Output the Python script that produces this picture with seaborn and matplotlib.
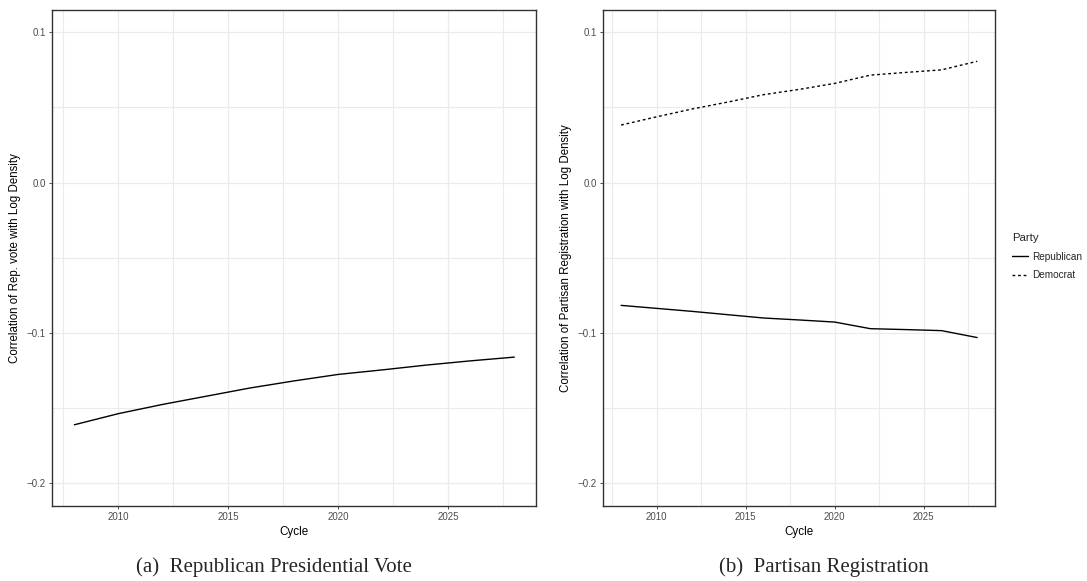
import numpy as np
import pandas as pd
import matplotlib
matplotlib.use("Agg")
import matplotlib.pyplot as plt
import seaborn as sns
from matplotlib.lines import Line2D

# ---- data ----
cycles = [2008, 2010, 2012, 2014, 2016, 2018, 2020, 2022, 2024, 2026, 2028]
rep_vote_corr = [-0.1610, -0.1536, -0.1475, -0.1420, -0.1365, -0.1318,
                 -0.1275, -0.1245, -0.1213, -0.1185, -0.1160]
rep_reg_corr = [-0.0816, -0.0836, -0.0856, -0.0878, -0.0900, -0.0913,
                -0.0927, -0.0971, -0.0977, -0.0984, -0.1030]
dem_reg_corr = [0.0383, 0.0438, 0.0490, 0.0536, 0.0585, 0.0620,
                0.0660, 0.0715, 0.0733, 0.0750, 0.0807]
parties = ["Republican", "Democrat"]
y_ticks = [-0.2, -0.1, 0.0, 0.1]
y_tick_labels = ["\u22120.2", "\u22120.1", "0.0", "0.1"]
x_ticks = [2010, 2015, 2020, 2025]
x_tick_labels = ["2010", "2015", "2020", "2025"]
captions = ["(a)  Republican Presidential Vote", "(b)  Partisan Registration"]
ylabels = ["Correlation of Rep. vote with Log Density",
           "Correlation of Partisan Registration with Log Density"]

df_vote = pd.DataFrame({"Cycle": cycles, "corr": rep_vote_corr})
df_reg = pd.DataFrame({
    "Cycle": cycles * 2,
    "corr": rep_reg_corr + dem_reg_corr,
    "Party": [parties[0]] * len(cycles) + [parties[1]] * len(cycles),
})

sns.set_theme(style="white")
plt.rcParams["font.family"] = ["Liberation Sans", "DejaVu Sans"]

W, H = 1087, 581
fig = plt.figure(figsize=(W / 100, H / 100), dpi=100)

def px_axes(x0, x1, y0, y1):
    return fig.add_axes([x0 / W, 1 - y1 / H, (x1 - x0) / W, (y1 - y0) / H])

ax1 = px_axes(52.3, 536.3, 9.7, 506)
ax2 = px_axes(603.3, 995, 9.7, 506)

sns.lineplot(data=df_vote, x="Cycle", y="corr", ax=ax1, color="black",
             linewidth=1.0, legend=False)
sns.lineplot(data=df_reg, x="Cycle", y="corr", style="Party", ax=ax2,
             color="black", linewidth=1.0, style_order=parties,
             dashes={"Republican": "", "Democrat": (2, 2)}, legend=False)

grid_col = "#ebebeb"
for ax, yl in zip([ax1, ax2], ylabels):
    ax.set_xlim(2007, 2029)
    ax.set_ylim(-0.215, 0.115)
    ax.set_xticks(x_ticks)
    ax.set_xticklabels(x_tick_labels)
    ax.set_yticks(y_ticks)
    ax.set_yticklabels(y_tick_labels)
    ax.set_xticks([2007.5, 2012.5, 2017.5, 2022.5, 2027.5], minor=True)
    ax.set_yticks([-0.15, -0.05, 0.05], minor=True)
    ax.grid(True, which="major", color=grid_col, linewidth=0.9)
    ax.grid(True, which="minor", color=grid_col, linewidth=0.8)
    ax.set_axisbelow(True)
    ax.tick_params(which="major", length=2.5, width=0.6, color="#333333",
                   labelsize=7.0, labelcolor="#4d4d4d", pad=2,
                   left=True, bottom=True)
    ax.tick_params(which="minor", length=0)
    for s in ax.spines.values():
        s.set_color("#333333")
        s.set_linewidth(1.0)
    ax.set_xlabel("Cycle", fontsize=8.4, color="black", labelpad=2.5)
    ax.set_ylabel(yl, fontsize=8.3, color="black", labelpad=4)

# captions
fig.text(274 / W, 1 - 567 / H, captions[0], ha="center", va="center",
         fontsize=15, family=["Liberation Serif", "DejaVu Serif"])
fig.text(824 / W, 1 - 567 / H, captions[1], ha="center", va="center",
         fontsize=15, family=["Liberation Serif", "DejaVu Serif"])

# legend
handles = [Line2D([], [], color="black", linewidth=1.0),
           Line2D([], [], color="black", linewidth=1.0, dashes=(2, 2))]
leg = fig.legend(handles, parties, title="Party", loc="upper left",
                 bbox_to_anchor=(1008 / W, 1 - 229 / H), frameon=False,
                 fontsize=7.2, title_fontsize=8.2, handlelength=1.6,
                 handletextpad=0.45, labelspacing=0.85, borderaxespad=0,
                 alignment="left")

fig.savefig("out.png", dpi=100)
